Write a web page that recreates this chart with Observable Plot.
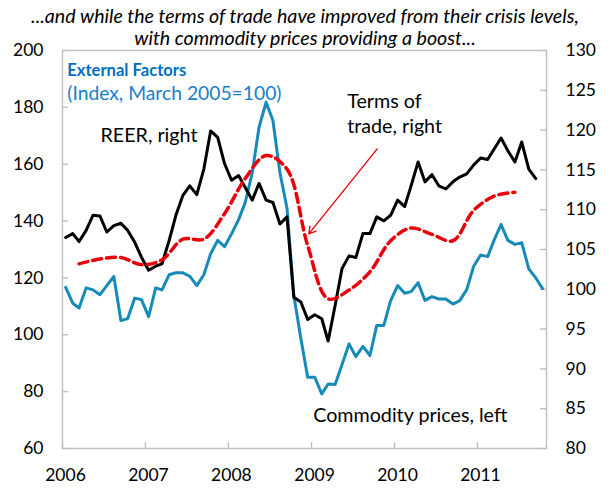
<!DOCTYPE html>
<html><head><meta charset="utf-8">
<script src="https://cdn.jsdelivr.net/npm/d3@7"></script>
<script src="https://cdn.jsdelivr.net/npm/@observablehq/plot@0.6"></script>
<style>
body{margin:0;background:#fff;}
#wrap{position:relative;width:610px;height:491px;font-family:Lato,sans-serif;}
#title{position:absolute;left:0;top:5px;width:610px;text-align:center;font-style:italic;font-size:19.6px;line-height:22px;color:#000;}
</style></head><body>
<div id="wrap"><div id="chart"></div><div id="title">...and while the terms of trade have improved from their crisis levels,<br>with commodity prices providing a boost...</div></div>
<script>
// Monthly, Jan 2006 onward (left axis)
const commodity = [116.7,111.1,109.4,116.5,115.8,114.1,117.3,120.5,105.0,105.7,112.9,112.3,
106.4,116.5,115.8,121.1,121.8,121.8,120.6,117.3,121.1,128.5,133.2,131.0,
135.5,140.5,146.5,157.0,173.0,181.8,175.4,157.0,144.5,113.8,98.7,85.1,
85.1,79.2,82.7,82.5,89.5,96.8,92.3,95.9,92.7,103.3,103.3,112.0,
117.3,114.6,115.2,118.3,112.1,113.4,112.6,112.6,110.8,112.0,115.9,124.0,
128.1,127.5,133.2,138.8,133.2,131.8,132.4,123.2,120.0,116.2];
// Monthly, Jan 2006 onward (right axis)
const reer = [106.5,107.0,106.0,107.4,109.3,109.2,107.2,108.0,108.3,107.4,105.9,104.0,
102.4,102.9,103.2,106.1,109.3,111.8,113.0,111.9,115.1,119.9,119.1,115.8,
113.7,114.3,112.8,111.2,113.3,111.2,110.9,108.2,109.1,99.0,98.4,96.2,
96.8,96.3,93.5,98.0,102.6,104.2,104.0,107.0,107.0,109.1,108.6,109.3,
111.2,110.4,113.0,116.0,113.5,114.4,113.0,112.6,113.5,114.1,114.5,115.6,
116.5,116.3,117.6,119.0,117.4,116.0,118.5,115.1,113.9];
// Quarterly, Mar 2006 onward (right axis)
const termsOfTrade = [103.2,103.8,104.0,103.1,103.7,106.3,106.3,109.5,113.9,116.8,115.1,105.5,98.8,99.9,102.2,106.1,107.7,106.9,106.1,109.9,111.7,112.2];

const yearTicks = [2006,2007,2008,2009,2010,2011];
const leftTicks = [60,80,100,120,140,160,180,200];
const rightTicks = [80,85,90,95,100,105,110,115,120,125,130];
const xStart = [2006,0], xEnd = [2011,10];

const boldNotes = [
  {year:2006.057, value:192.9, text:"External Factors", color:"#0070C0"}
];
const notes = [
  {year:2006.057, value:184.6, text:"(Index, March 2005=100)", color:"#1A80C6"},
  {year:2006.458, value:169.9, text:"REER, right", color:"#000"},
  {year:2009.430, value:182.1, text:"Terms of", color:"#000"},
  {year:2009.430, value:173.3, text:"trade, right", color:"#000"},
  {year:2009.020, value:71.6, text:"Commodity prices, left", color:"#000"}
];
const arrowData = [{y1:2009.792, v1:165.4, y2:2008.967, v2:135.5}];

// right axis (80-130) mapped onto left scale (60-200)
const toLeft = v => 60 + (v - 80) * 140 / 50;
const fromLeft = d => String(Math.round((d - 60) * 50 / 140 + 80));
const monthDate = (i, start) => new Date(Date.UTC(2006, start + i, 15));
const yearDate = y => { const Y = Math.floor(y); const a = Date.UTC(Y,0,1), b = Date.UTC(Y+1,0,1); return new Date(a + (y - Y) * (b - a)); };

const commodityData = commodity.map((v,i) => ({date: monthDate(i,0), value: v}));
const reerData = reer.map((v,i) => ({date: monthDate(i,0), value: toLeft(v)}));
const totData = termsOfTrade.map((v,i) => ({date: monthDate(i*3,2), value: toLeft(v)}));
const boldData = boldNotes.map(a => ({...a, date: yearDate(a.year)}));
const noteData = notes.map(a => ({...a, date: yearDate(a.year)}));
const arr = arrowData.map(a => ({x1: yearDate(a.y1), yy1: a.v1, x2: yearDate(a.y2), yy2: a.v2}));
const yearDates = yearTicks.map(y => new Date(Date.UTC(y,0,1)));

const W = 610, H = 491, mT = 50, mL = 62, mR = 64, mB = 43, tick = 6;
const gray = "#bfbfbf";
const chart = Plot.plot({
  width: W, height: H,
  marginTop: mT, marginLeft: mL, marginRight: mR, marginBottom: mB,
  style: {fontFamily: "Lato, sans-serif", fontSize: "17.5px", color: "#000", background: "#fff"},
  x: {type: "utc", domain: [new Date(Date.UTC(...xStart,1)), new Date(Date.UTC(...xEnd,1))]},
  y: {domain: [60, 200]},
  marks: [
    Plot.frame({stroke: gray, strokeWidth: 1.4}),
    // inward tick marks
    Plot.tickY(leftTicks, {y: d => d, stroke: gray, strokeWidth: 1.4, insetRight: W - mL - mR - tick}),
    Plot.tickY(rightTicks.map(toLeft), {y: d => d, stroke: gray, strokeWidth: 1.4, insetLeft: W - mL - mR - tick}),
    Plot.tickX(yearDates, {x: d => d, stroke: gray, strokeWidth: 1.4, insetTop: H - mT - mB - tick}),
    // tick labels
    Plot.axisY(leftTicks, {anchor: "left", tickSize: 0, tickPadding: 19, fill: "#000", label: null}),
    Plot.axisY(rightTicks.map(toLeft), {anchor: "right", tickSize: 0, tickPadding: 19, fill: "#000", tickFormat: fromLeft, label: null}),
    Plot.axisX(yearDates, {anchor: "bottom", tickSize: 0, tickPadding: 20, dx: 3, fill: "#000", tickFormat: d => String(d.getUTCFullYear()), label: null}),
    Plot.line(commodityData, {x: "date", y: "value", stroke: "#168AB9", strokeWidth: 3}),
    Plot.line(reerData, {x: "date", y: "value", stroke: "#000", strokeWidth: 3}),
    Plot.line(totData, {x: "date", y: "value", stroke: "#E8000B", strokeWidth: 3.5, strokeDasharray: "9,5", curve: "catmull-rom"}),
    Plot.arrow(arr, {x1: "x1", y1: "yy1", x2: "x2", y2: "yy2", stroke: "#E8000B", strokeWidth: 1.3, headLength: 9}),
    Plot.text(boldData, {x: "date", y: "value", text: "text", fill: "color", fontWeight: "bold", textAnchor: "start", fontSize: 16.6}),
    Plot.text(noteData.slice(0,1), {x: "date", y: "value", text: "text", fill: "color", textAnchor: "start", fontSize: 19.3}),
    Plot.text(noteData.slice(1), {x: "date", y: "value", text: "text", fill: "color", textAnchor: "start", fontSize: 19.7})
  ]
});
document.getElementById("chart").appendChild(chart);
</script>
</body></html>
